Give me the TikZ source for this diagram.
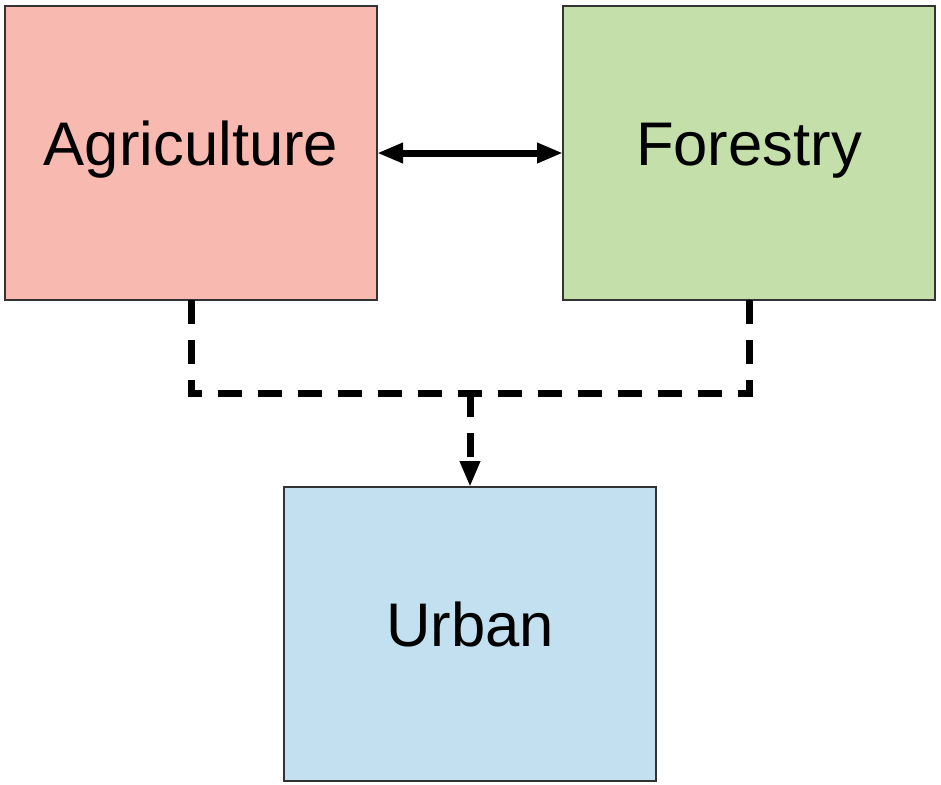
\documentclass[tikz,border=0pt]{standalone}
\usepackage{fontspec}
\setmainfont{Liberation Sans}
\usetikzlibrary{positioning,arrows.meta}

\definecolor{agrifill}{HTML}{F8B9B0}
\definecolor{forestfill}{HTML}{C5DFAB}
\definecolor{urbanfill}{HTML}{C2E0F0}

\begin{document}
\begin{tikzpicture}
[every node/.style={draw=black!80,line width=0.75pt,minimum width=186pt,minimum height=147pt,inner sep=0pt,outer sep=0pt,text height=21pt,text depth=9pt,font=\fontsize{30.8}{36}\selectfont},
 agribox/.style={rectangle,fill=agrifill},
 forestbox/.style={rectangle,fill=forestfill},
 urbanbox/.style={rectangle,fill=urbanfill},
 link/.style={line width=3.5pt,-{Triangle[length=13pt,width=9.5pt]}},
 flow/.style={link,dash pattern=on 12pt off 8pt}]
\useasboundingbox (0,0) rectangle (470.5pt,-392pt);
\node[agribox]  (agri) at (95.5pt,-76.5pt)                         {Agriculture};
\node[forestbox] (forest) [on grid,right=279pt of agri]            {Forestry};
\node[urbanbox] (urban) [on grid,below right=240.5pt and 139.5pt of agri] {Urban};
\coordinate[below=46.5pt of agri.south] (join);
\draw[link,{Triangle[length=13pt,width=9.5pt]}-{Triangle[length=13pt,width=9.5pt]}] (agri) -- (forest);
\draw[flow,-] (agri.south) -- (join) -| (forest.south);
\draw[flow] (join -| urban.north) -- (urban.north);
\end{tikzpicture}
\end{document}
